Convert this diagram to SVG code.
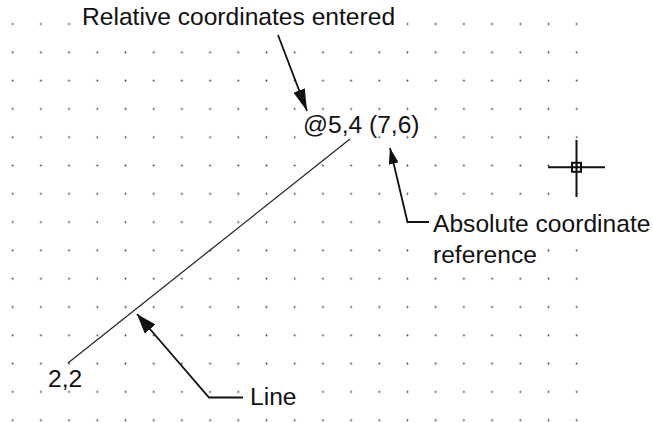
<svg xmlns="http://www.w3.org/2000/svg" width="653" height="423" viewBox="0 0 653 423">
  <style>
    .lbl { font-family: "Liberation Sans", Arial, Helvetica, sans-serif; font-size: 24.6px; fill: #111; }
    .conn { fill: none; stroke: #111; stroke-width: 1.8; }
    .mask { fill: #fff; }
  </style>
  <defs>
    <pattern id="grid" x="-1.4" y="9.85" width="28.2" height="28.3" patternUnits="userSpaceOnUse">
      <circle cx="14.1" cy="14.15" r="0.9" fill="#333"/>
    </pattern>
    <marker id="arrowA" markerUnits="userSpaceOnUse" viewBox="0 0 22 12" markerWidth="22" markerHeight="12" refX="22" refY="6" orient="auto">
      <path d="M0,0 L22,6 L0,12 z" fill="#111"/>
    </marker>
    <marker id="arrowB" markerUnits="userSpaceOnUse" viewBox="0 0 16 10" markerWidth="16" markerHeight="10" refX="16" refY="5" orient="auto">
      <path d="M0,0 L16,5 L0,10 z" fill="#111"/>
    </marker>
    <marker id="arrowC" markerUnits="userSpaceOnUse" viewBox="0 0 20 14" markerWidth="20" markerHeight="14" refX="20" refY="7" orient="auto">
      <path d="M0,0 L20,7 L0,14 z" fill="#111"/>
    </marker>
  </defs>
  <rect width="653" height="423" fill="#fff"/>
  <g id="dot-grid">
    <rect x="0" y="0" width="592" height="423" fill="url(#grid)"/>
    <rect class="mask" x="82" y="8" width="316" height="22"/>
    <rect class="mask" x="315" y="130" width="45" height="12"/>
    <rect class="mask" x="432" y="212" width="180" height="22"/>
    <rect class="mask" x="432" y="244" width="106" height="22"/>
    <rect class="mask" x="249" y="385" width="52" height="22"/>
  </g>
  <g id="line-2-2-to-7-6">
    <line x1="68" y1="363" x2="350" y2="139" stroke="#222" stroke-width="1.2"/>
  </g>
  <g id="crosshair" stroke="#111" stroke-width="2" fill="none">
    <line x1="548" y1="167.3" x2="605" y2="167.3"/>
    <line x1="576.5" y1="140" x2="576.5" y2="197"/>
    <rect x="572" y="162.8" width="9" height="9"/>
  </g>
  <g id="connectors">
    <line class="conn" x1="278" y1="35" x2="307" y2="111" marker-end="url(#arrowA)"/>
    <polyline class="conn" points="429,222 407.5,222 390,148" marker-end="url(#arrowB)"/>
    <polyline class="conn" points="243,397.5 209,397.5 137,314" marker-end="url(#arrowC)"/>
  </g>
  <g id="label-relative">
    <text class="lbl" x="82" y="25">Relative coordinates entered</text>
  </g>
  <g id="label-point">
    <text class="lbl" x="303" y="133">@5,4 (7,6)</text>
  </g>
  <g id="label-absolute">
    <text class="lbl" x="433" y="232">Absolute coordinate</text>
    <text class="lbl" x="433" y="263">reference</text>
  </g>
  <g id="label-start">
    <text class="lbl" x="48" y="387">2,2</text>
  </g>
  <g id="label-line">
    <text class="lbl" x="250" y="405">Line</text>
  </g>
</svg>
